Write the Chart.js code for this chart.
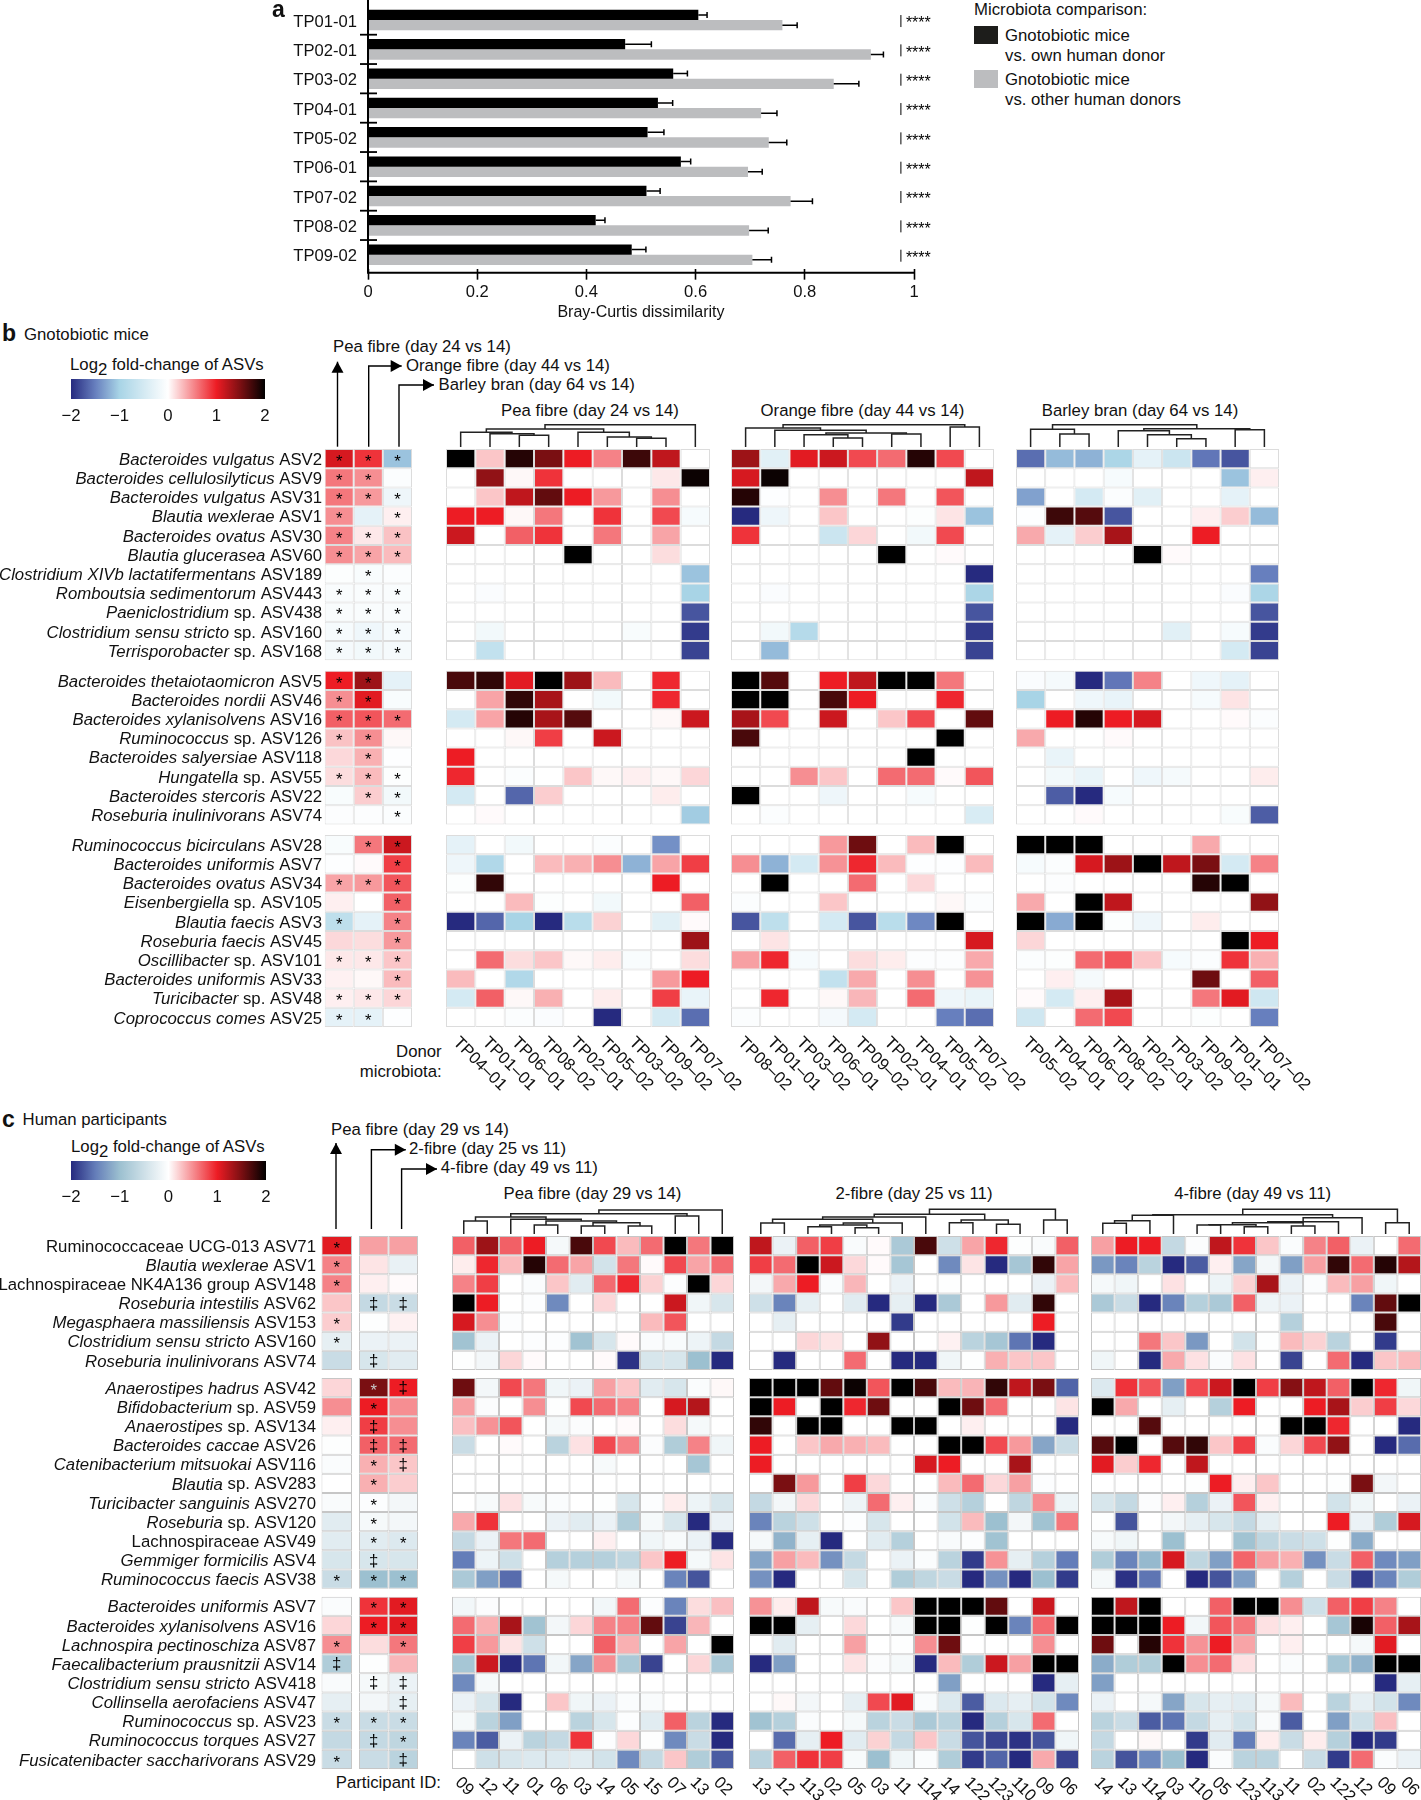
<!DOCTYPE html>
<html><head><meta charset="utf-8"><title>Fibre ASV responses</title>
<script src="https://cdn.jsdelivr.net/npm/chart.js@4"></script>
<style>
html,body{margin:0;padding:0;background:#fff}
#page{position:relative;width:1421px;height:1800px;overflow:hidden;font-family:"Liberation Sans",Arial,sans-serif;color:#111}
canvas{position:absolute}
.t{position:absolute;white-space:nowrap;line-height:1;transform:translateY(-50%)}
svg{position:absolute;left:0;top:0}
</style></head><body><div id="page"></div>
<script>
/* ---------- panel a ---------- */
const subjects=['TP01-01','TP02-01','TP03-02','TP04-01','TP05-02','TP06-01','TP07-02','TP08-02','TP09-02'];
const ownDonor=[0.605,0.471,0.559,0.531,0.512,0.573,0.510,0.417,0.483];
const otherDonor=[0.759,0.921,0.853,0.720,0.734,0.696,0.774,0.698,0.704];
const ownErrTop=[0.621,0.519,0.585,0.558,0.542,0.591,0.535,0.434,0.509];
const otherErrTop=[0.786,0.944,0.899,0.749,0.767,0.722,0.814,0.733,0.739];

/* ---------- panel b ---------- */
const bGroups=[11,8,10];
const bRowNames=['Bacteroides vulgatus| ASV2','Bacteroides cellulosilyticus| ASV9','Bacteroides vulgatus| ASV31','Blautia wexlerae| ASV1','Bacteroides ovatus| ASV30','Blautia glucerasea| ASV60','Clostridium XIVb lactatifermentans| ASV189','Romboutsia sedimentorum| ASV443','Paeniclostridium| sp. ASV438','Clostridium sensu stricto| sp. ASV160','Terrisporobacter| sp. ASV168',
'Bacteroides thetaiotaomicron| ASV5','Bacteroides nordii| ASV46','Bacteroides xylanisolvens| ASV16','Ruminococcus| sp. ASV126','Bacteroides salyersiae| ASV118','Hungatella| sp. ASV55','Bacteroides stercoris| ASV22','Roseburia inulinivorans| ASV74',
'Ruminococcus bicirculans| ASV28','Bacteroides uniformis| ASV7','Bacteroides ovatus| ASV34','Eisenbergiella| sp. ASV105','Blautia faecis| ASV3','Roseburia faecis| ASV45','Oscillibacter| sp. ASV101','Bacteroides uniformis| ASV33','Turicibacter| sp. ASV48','Coprococcus comes| ASV25'];
const bSummaryCols=['Pea fibre','Orange fibre','Barley bran'];
const bSummary=[[1.1,.9,-1.1],[.6,.5,-.05],[.6,.45,-.2],[.5,-.3,.07],[.55,.1,.27],[.5,.4,.3],[-.03,-.08,-.05],[-.07,-.07,-.07],[-.07,-.07,-.07],[-.1,-.18,-.1],[-.12,-.15,-.12],
[1,1.35,-.3],[.5,1.05,-.08],[.7,.75,.65],[.27,.5,.03],[.17,.35,-.02],[.15,.3,-.03],[-.08,.22,-.15],[-.04,-.04,-.05],
[-.08,.6,1.15],[-.02,.02,.85],[.4,.45,.75],[.07,0,.7],[-.75,-.3,.55],[.17,.15,.45],[.1,.1,.25],[.06,.03,.3],[.07,.1,.18],[-.3,-.3,-.02]];
const bMarks=['***','**-','***','*-*','***','***','-*-','***','***','***','***','**-','**-','***','**-','-*-','***','-**','--*','-**','--*','***','--*','*-*','--*','***','--*','***','**-'];

const bPeaDonors=['TP04–01','TP01–01','TP06–01','TP08–02','TP02–01','TP05–02','TP03–02','TP09–02','TP07–02'];
const bPea=[[2,.25,1.85,1.5,1,.55,1.75,1.2,0],[0,1.4,.03,.9,0,0,0,.1,1.95],[0,.25,1.2,1.6,1,.45,0,.5,0],[1,1,.03,.6,0,.9,0,.8,-.1],[1.15,0,.7,.9,0,.6,0,.4,0],[0,0,0,0,2,0,0,.15,0],[0,0,0,0,0,0,0,0,-1.1],[0,-.06,0,0,0,0,0,0,-1],[0,0,0,0,0,0,0,0,-1.75],[0,-.15,0,0,0,0,-.08,0,-1.9],[0,-.7,0,0,0,0,0,0,-1.85],
[1.7,1.8,1.05,2,1.35,.3,0,.95,0],[0,.4,1.8,1.3,0,-.15,0,.95,0],[-.5,.4,1.85,1.3,1.65,0,0,.03,1.15],[0,0,.03,.85,0,1.15,0,0,0],[1,0,0,0,0,0,0,0,0],[.95,0,-.05,0,.25,.03,.07,.03,.18],[-.5,0,-1.65,.22,0,0,0,.08,0],[0,.02,0,0,0,0,0,0,-1.05],
[-.3,0,-.15,0,0,-.05,0,-1.4,0],[-.2,-.9,0,.3,.35,.5,-1.2,.4,.85],[-.03,1.8,0,0,0,0,0,1,0],[0,0,.3,-.03,0,-.15,0,0,.7],[-2,-1.65,-1,-2,-.8,.2,0,-.35,.02],[0,0,0,0,0,0,0,0,1.35],[0,.65,.15,.25,.03,.08,-.08,0,.15],[.3,0,-.9,0,0,0,0,.45,1],[-.5,.7,.03,.35,0,.08,0,.85,-.25],[0,0,-.05,-.06,0,-2,0,-.5,-1.6]];
const bPeaTree=[24.3,[20,[16.7,0,[15.3,1,[13.7,2,3]]],[16.7,4,[12,5,[10.7,6,7]]]],8];

const bOrangeDonors=['TP08–02','TP01–01','TP03–02','TP06–01','TP09–02','TP02–01','TP04–01','TP05–02','TP07–02'];
const bOrange=[[1.35,-.35,1.05,1.15,.8,.65,1.85,.8,0],[1.1,1.95,0,0,0,0,0,0,1.2],[1.85,-.02,0,.5,0,.6,0,.75,0],[-2,-.2,0,.25,0,0,-.03,.12,-1.1],[.9,0,0,-.6,.18,0,-.15,.8,0],[0,0,0,0,0,2,0,.02,0],[0,0,0,0,0,0,0,0,-2],[0,-.06,0,0,0,0,0,0,-.95],[0,0,0,0,0,0,0,0,-1.75],[0,-.15,-.85,0,0,0,0,0,-1.9],[0,-1.15,0,0,0,0,0,0,-1.85],
[2,1.65,0,1,1.2,2,2,.6,0],[2,2,0,1.7,1,0,0,.95,0],[1.3,.8,0,1.15,0,.25,.8,0,1.6],[1.7,0,0,0,0,0,0,2,0],[0,0,0,0,0,0,2,0,0],[0,0,.5,.25,0,.65,.65,.02,.75],[2,0,0,-.2,0,0,-.1,0,0],[0,-.05,0,0,0,0,0,0,-.45],
[0,0,0,.45,1.55,0,.3,2,0],[.5,-1.2,-.5,.48,.95,.3,-.02,-.02,.3],[0,2,0,0,.65,0,.17,0,0],[-.05,0,0,.25,0,0,0,.03,-.05],[-1.75,-.75,0,-.5,-1.75,-.8,-1.45,2,0],[0,.12,0,0,0,0,0,0,1.1],[.42,.95,-.1,0,.15,.08,-.04,-.04,.38],[0,0,0,-.7,.38,0,.5,0,.48],[0,.95,0,.03,.32,0,.65,-.2,-.25],[-.05,0,0,-.13,-.5,0,0,-1.5,-1.6]];
const bOrangeTree=[24.3,[21,0,[18.7,1,[16,[14.3,2,[11,3,4]],[15,5,6]]]],[22,7,8]];

const bBarleyDonors=['TP05–02','TP04–01','TP06–01','TP08–02','TP02–01','TP03–02','TP09–02','TP01–01','TP07–02'];
const bBarley=[[-1.6,-1.15,-1.2,-.95,-.3,-.6,-1.55,-1.75,0],[0,0,0,-.1,0,0,0,-1.1,.07],[-1.3,0,-.5,-.05,-.35,0,0,-.3,0],[-.02,1.75,1.65,-1.75,0,0,.07,.22,-1.15],[.38,-.3,.22,1.3,0,0,1,0,0],[0,0,0,0,2,.02,0,0,0],[0,0,0,0,0,0,0,0,-1.5],[0,0,0,0,0,0,0,-.06,-.95],[0,0,0,0,0,0,0,0,-1.75],[0,0,0,0,0,-.35,0,-.1,-1.9],[0,0,0,0,0,0,0,-.5,-1.85],
[-.06,-.12,-2,-1.55,.55,0,-.18,-.3,0],[-1,0,-.18,-.25,0,0,-.1,.12,0],[0,1,1.85,1,1.1,0,0,.02,-.05],[.38,0,0,.02,0,0,0,0,0],[0,-.25,0,0,0,0,0,0,0],[0,-.15,-.25,0,-.18,-.12,0,0,.08],[0,-1.7,-2,-.1,0,0,0,0,0],[0,0,.02,0,0,0,0,-.08,-1.7],
[2,2,2,0,0,0,.38,0,0],[-.1,-.05,1.1,1.35,2,1.2,1.5,-.5,.55],[0,-.04,0,0,0,0,1.85,2,0],[.38,0,2,1.2,0,0,0,0,1.4],[2,-1.25,2,-.03,-.2,0,.08,0,0],[.18,0,0,0,0,0,0,2,1],[-.05,-.03,.65,.75,.25,-.1,-.05,.9,.35],[0,.07,-.12,0,0,0,1.55,0,.7],[.02,-.5,.07,1.3,0,0,.6,1.05,-.55],[-.55,0,.65,.8,0,0,-.03,0,-1.5]];
const bBarleyTree=[24.3,[19.7,0,[15,1,2]],[20.3,[18.3,3,[14.3,4,[10.3,5,6]]],[19.3,7,8]]];

/* ---------- panel c ---------- */
const cGroups=[7,11,9];
const cRowNames=['|Ruminococcaceae UCG-013 ASV71','Blautia wexlerae| ASV1','|Lachnospiraceae NK4A136 group ASV148','Roseburia intestilis| ASV62','Megasphaera massiliensis| ASV153','Clostridium sensu stricto| ASV160','Roseburia inulinivorans| ASV74',
'Anaerostipes hadrus| ASV42','Bifidobacterium| sp. ASV59','Anaerostipes| sp. ASV134','Bacteroides caccae| ASV26','Catenibacterium mitsuokai| ASV116','Blautia| sp. ASV283','Turicibacter sanguinis| ASV270','Roseburia| sp. ASV120','|Lachnospiraceae ASV49','Gemmiger formicilis| ASV4','Ruminococcus faecis| ASV38',
'Bacteroides uniformis| ASV7','Bacteroides xylanisolvens| ASV16','Lachnospira pectinoschiza| ASV87','Faecalibacterium prausnitzii| ASV14','Clostridium sensu stricto| ASV418','Collinsella aerofaciens| ASV47','Ruminococcus| sp. ASV23','Ruminococcus torques| ASV27','Fusicatenibacter saccharivorans| ASV29'];
const cSummaryPea=[[1.05],[.55],[.55],[.25],[.22],[-.25],[-.55],[.18],[.5],[.07],[-.02],[-.05],[0],[-.06],[-.3],[-.3],[-.4],[-.55],[-.05],[.18],[.5],[-.8],[-.06],[-.25],[-.55],[-.6],[-.55]];
const cMarksPea=['*','*','*','-','*','*','-','-','-','-','-','-','-','-','-','-','-','*','-','-','*','‡','-','-','*','-','*'];
const cSummaryMix=[[.42,.42],[.12,-.22],[.07,.02],[-.6,-.55],[-.02,.06],[-.2,-.2],[-.4,-.3],[1.5,1],[1,.5],[.85,.5],[.7,.65],[.35,.25],[.35,.22],[-.03,-.12],[-.1,-.12],[-.3,-.35],[-.4,-.4],[-1,-1],[.9,1.05],[1,1.05],[.15,.6],[-.02,.32],[-.1,-.2],[-.12,-.25],[-.55,-.55],[-.6,-.65],[-.55,-.7]];
const cMarksMix=['--','--','--','‡‡','--','--','‡-','*‡','*-','‡-','‡‡','*‡','*-','*-','*-','**','‡-','**','**','**','-*','--','‡‡','-‡','**','‡*','-‡'];

const cPeaIds=['09','12','11','01','06','03','14','05','15','07','13','02'];
const cPea=[[.7,1.35,.7,1,-.1,1.7,.8,.3,.65,2,.6,2],[.08,.95,.3,1.85,.65,.4,-.45,.6,.02,.8,.4,.65],[.55,.85,0,-.05,.25,-.3,.65,.95,.2,-.03,2,.18],[2,1,0,-.03,-1.4,0,.18,0,0,1.15,-.15,-.4],[1.1,.5,-.03,0,0,0,0,0,.3,.75,0,0],[-.95,-.2,0,-.03,-.03,-.95,-.4,.02,-.05,-.07,-.18,-.6],[-.02,-.12,.18,.02,0,0,.02,-1.95,-.4,-.4,-1,-2],
[1.55,-.12,.8,.6,-.15,-.2,.42,.25,-.3,-.4,-.05,.03],[.42,-.04,0,.5,-.02,.8,.65,.55,0,1.1,1.25,0],[.28,.48,.75,0,-.1,-.04,0,.02,0,.15,-.1,0],[-.55,0,.02,0,-.7,.13,.8,.55,-.04,-.8,.55,-.15],[0,0,0,0,0,0,-.08,0,0,0,-.9,0],[0,0,0,0,0,0,0,0,0,0,0,0],[0,-.08,.13,-.08,-.05,0,-.02,-.4,-.03,.08,-.18,-.4],[.38,.9,0,0,-.2,-.3,-.2,-.8,-.1,-.4,-2,-.2],[-.6,-.2,.6,.65,0,0,.07,0,-.15,-.08,-.2,-2],[-1.5,-.18,-.5,0,-.75,-.75,-.75,-.65,.25,1,-.1,.12],[-.85,-1.25,-1.6,0,-.1,0,0,-.1,0,-1.45,-1.75,0],
[-.13,-.04,0,0,0,0,-.13,.65,-.03,-1.45,.15,.28],[.65,.35,1.3,-.95,-.12,.18,.55,.55,1.6,-1.85,.32,0],[.85,.45,.12,-.5,0,0,.7,.35,0,.4,0,2],[-.9,1.15,-2,-1.55,-.13,-1.2,.5,-.85,-1.85,0,.18,-.85],[-1.4,-.1,0,0,0,0,0,0,0,0,0,0],[-.2,-.4,-2,0,.25,-.15,-.2,-.05,-.06,0,0,0],[-.1,-.7,-1.25,0,0,-.7,-.4,-.03,-.3,.7,-.7,-2],[-1.45,-1.7,-.2,-.7,-.6,.9,-.03,.17,-.02,-1.4,-.55,-2],[0,-.5,-.4,-.35,-.35,-.3,-.45,-1.4,-.6,.25,-.8,-1.7]];
const cPeaTree=[26,[22.3,[19,[15,0,1],[16.7,2,[15,[11,3,4],[13.3,[10,5,6],[10,7,8]]]]],[20,9,10]],11];

const cTwoIds=['13','12','113','02','05','03','11','114','14','122','123','110','09','06'];
const cTwo=[[1.2,-.2,.7,.85,-.06,.02,-.85,1.7,-.5,.4,.95,-.02,-.06,.7],[.85,.65,2,1.15,.17,.02,-.9,0,-1.4,.12,-2,-.9,1.8,.4],[-.12,.38,1,-.05,.32,0,-.2,0,-.02,0,0,0,-.2,.3],[-.5,-1.45,-.25,0,-.3,-2,-.25,-2,-.85,0,.45,-.3,1.8,0],[0,-.25,0,0,0,0,-1.9,0,0,0,0,0,1,0],[0,0,.18,.12,0,1.4,0,0,.06,-.7,-.9,-1.55,-2,0],[0,-2,0,0,.65,0,-2,-2,-.15,-.02,.35,.25,.25,0],
[2,2,2,1.6,1.95,.75,2,1.7,.3,.33,1.8,1.2,1.5,-1.65],[2,1,0,2,.95,1.55,0,0,2,1.55,.65,0,0,.12],[1.8,0,2,2,0,0,2,2,0,.07,0,0,0,-2],[1,0,.25,.38,.35,.3,0,0,2,2,.8,.45,-1.2,-.55],[1,0,0,0,0,0,0,1.1,1,0,0,1.3,0,0],[0,1.5,.45,0,.85,.17,0,0,.3,.65,.17,.42,-.03,0],[-.6,-.12,.17,0,-.17,.65,.07,-.05,-.5,-.75,0,-.65,.5,-.18],[-1.45,-.7,-.5,0,-.03,-.4,0,0,-.45,.3,-1,-.12,-.95,.6],[-.1,-1.1,-.25,-2,0,-.3,-.75,0,-.07,-.03,-.95,0,0,0],[-1.2,.42,.3,-1.35,-.6,0,-.2,-.05,-.7,-1.9,.48,-.25,-.75,-1.5],[-1.35,-2,0,0,-.4,0,-.8,-.65,-.55,-2,-1.35,-2,-1,-1.9],
[.48,.08,1.2,-.08,-.06,0,.25,2,2,2,1.6,0,1.15,0],[2,2,-.25,0,.17,0,-.08,2,2,-.02,2,-1.45,.65,2],[0,-.3,0,0,.42,0,-.02,.5,1.55,0,0,0,.5,0],[-2,-1.25,0,0,.12,-.04,-.1,-2,.3,-.8,1.15,.42,2,2],[0,0,0,0,0,0,0,0,-1.25,0,0,0,-2,-.25],[0,.03,-.12,0,-.25,.8,1.05,-.05,-.35,-1.7,-.35,-.25,-.45,-1.4],[-.95,-.75,-.05,0,-.1,-.7,-.55,-.85,-.7,-2,-.75,-.4,.65,0],[0,-1.6,-.25,1,-.3,.2,-.6,.25,-.55,-1.75,-1.85,-1.95,-1.75,-.15],[-.7,.7,.9,.85,-.08,-1,-.15,-.05,-.8,-1.9,-1.65,-2,.38,-1.85]];
const cTwoTree=[26.7,[21.7,[19,[16.7,[13,0,1],[13,[11,[9.3,2,3],[8.3,4,5]],6]],7],[16,[13.3,8,9],[11.7,10,11]]],[16,12,13]];

const cFourIds=['14','13','114','03','110','05','123','113','11','02','122','12','09','06'];
const cFour=[[.42,1,1,-.6,-.04,1.2,.9,.25,-.05,.55,.7,-.2,0,.65],[-1.3,-1.45,-.7,-2,-1.7,.07,-1.2,-.12,-1.25,.42,1.8,.65,1.85,1.25],[-.1,-.15,0,.13,0,-.18,.2,1.3,-.2,-.05,.3,.42,-.15,0],[-.85,-.55,-2,-1.45,-.75,-.85,.7,-.17,-.2,0,0,-1.45,1.6,2],[0,0,0,0,0,0,0,0,-.75,0,0,0,1.7,0],[0,0,.6,.25,-1.3,0,-.45,-.02,.3,.2,-.7,0,-1.9,0],[-.15,0,-2,.38,.13,-.05,.13,0,-1.85,0,.65,-2,.25,.3],
[-.35,.9,.75,-1.25,.8,1.15,2,.85,1.45,1.2,.7,2,.95,-.15],[2,.38,0,-.25,0,-.75,1,0,0,1,1.3,.22,.85,.17],[0,0,1.65,0,0,0,0,0,2,2,.95,0,0,-2],[1.65,2,0,1.65,1.8,.25,.85,-.05,.18,.8,1.4,0,-2,-1.6],[1.05,.22,.95,0,1.2,0,0,0,0,0,0,0,0,0],[0,0,0,0,-.02,1,.07,.25,0,0,-.02,1.5,-.12,0],[-.4,-.6,-.04,.07,-.75,-.2,.75,.07,0,0,-.45,-.15,0,-.2],[-.02,-1.75,0,-.12,-.25,-.4,-.6,-.25,0,0,1,-.2,-.8,1.1],[-.08,-.15,0,-1,0,0,-.95,-.65,-.55,-.5,-.02,-1.15,0,0],[-.8,-1.45,-1.05,1.1,-.65,-1.25,.68,.42,.35,-1.35,-.55,.7,-1.4,-1.25],[-.1,-1.95,-1.55,0,-2,-1.75,-1.25,0,-.75,0,-.55,-1.9,-1.45,-.8],
[2,1.2,2,0,0,.7,2,2,.5,-.5,.7,.85,.55,0],[2,2,2,1,-.13,.75,.6,.13,.07,0,-.9,1.9,.7,1.3],[1.55,0,1.85,.9,.48,1,.4,0,.07,0,0,-.1,1.05,0],[-1.15,-.8,-.8,2,.5,.65,.13,0,-.05,0,-.9,-1.1,2,2],[-1.25,0,0,0,0,0,0,0,0,0,0,0,-2,-.25],[-.2,0,-.1,-1.2,-.4,-.25,-.3,-.1,.3,0,-.7,-.25,-.45,-1.4],[-.7,-.55,-1.7,-1.55,-.6,-.25,-.45,-.06,-1.7,0,-1.25,-.5,.28,0],[-.6,0,.03,0,-1.9,-.3,-1.5,.08,-.55,.08,-.75,-2,-1.9,0],[-.7,-1.75,-1.4,-1,-2,-.05,-.7,-.7,0,-.55,-1.9,.65,-.05,-.2]];
const cFourTree=[26.7,[21.3,[20.7,[15.3,[12.7,0,1],2],3],[18.3,[14.3,[13.3,[11.3,[11,4,5],[9.3,6,7]],[10,8,9]],10],11]],[13.3,12,13]];

const colorTicks=[-2,-1,0,1,2];

/* ---------- helpers ---------- */
const FONT='"Liberation Sans", Arial, sans-serif';
const FS=16.75;
const page=document.getElementById('page');
Chart.defaults.font.family=FONT;
Chart.defaults.color='#111';
const rampB=[[-2,[38,42,127]],[-1.5,[103,127,190]],[-1,[168,212,230]],[0,[255,255,255]],[1,[237,28,36]],[1.5,[122,15,18]],[2,[0,0,0]]];
const rampC=[[-2,[38,42,127]],[-1.5,[100,125,185]],[-1,[156,192,208]],[0,[255,255,255]],[1,[237,28,36]],[1.5,[122,15,18]],[2,[0,0,0]]];
function colorFor(v,ramp){
  for(let i=1;i<ramp.length;i++){
    if(v<=ramp[i][0]){
      const [a,ca]=ramp[i-1],[b,cb]=ramp[i],f=(v-a)/(b-a);
      return 'rgb('+ca.map((c,k)=>Math.round(c+(cb[k]-c)*f)).join(',')+')';
    }
  }
  return 'rgb(0,0,0)';
}
function addCanvas(l,t,w,h){
  const c=document.createElement('canvas');
  c.width=Math.round(w);c.height=Math.round(h);
  c.style.left=l+'px';c.style.top=t+'px';
  c.style.width=Math.round(w)+'px';c.style.height=Math.round(h)+'px';
  page.appendChild(c);return c;
}
function txt(x,y,html,opt){
  opt=opt||{};
  const d=document.createElement('div');d.className='t';d.innerHTML=html;
  d.style.top=y+'px';d.style.fontSize=(opt.size||FS)+'px';
  if(opt.bold)d.style.fontWeight='bold';
  if(opt.right!==undefined){d.style.right=(1421-opt.right)+'px';}
  else if(opt.center){d.style.left=x+'px';d.style.transform='translate(-50%,-50%)';}
  else d.style.left=x+'px';
  page.appendChild(d);
}
function rowStarts(groups,gapUnits){
  const out=[];let y=0;
  groups.forEach(n=>{for(let i=0;i<n;i++)out.push(y++);y+=gapUnits;});
  return out;
}
function drawTree(ctx,node,xs,base){
  if(typeof node==='number')return {x:xs.getPixelForValue(node),y:base-2};
  const a=drawTree(ctx,node[1],xs,base),b=drawTree(ctx,node[2],xs,base),y=base-node[0];
  ctx.beginPath();ctx.moveTo(a.x,a.y);ctx.lineTo(a.x,y);ctx.lineTo(b.x,y);ctx.lineTo(b.x,b.y);ctx.stroke();
  return {x:(a.x+b.x)/2,y};
}
/* one heat-map column block: bars float from row start to row start + 1 on a linear y axis */
function heat(o){
  const padL=o.names?o.left:14,padR=o.tickLabels?90:6,padT=o.tree?40:4,padB=o.tickLabels?80:4;
  const l=o.left-padL,t=o.top-padT,w=padL+(o.right-o.left)+padR,h=padT+(o.bottom-o.top)+padB;
  const starts=rowStarts(o.groups,o.gap);
  const total=o.groups.reduce((a,b)=>a+b,0)+o.gap*(o.groups.length-1);
  const cvs=addCanvas(l,t,w,h);
  const overlay={id:'overlay',afterDatasetsDraw(chart){
    const ctx=chart.ctx,xs=chart.scales.x,ys=chart.scales.y;
    ctx.save();
    if(o.marks){
      ctx.textAlign='center';ctx.textBaseline='middle';ctx.font=FS+'px '+FONT;
      o.marks.forEach((m,r)=>[...m].forEach((ch,c)=>{
        if(ch==='-')return;
        ctx.fillStyle=o.matrix[r][c]>1.4?'#c9c9c9':'#000';
        ctx.fillText(ch,xs.getPixelForValue(c),ys.getPixelForValue(starts[r]+.5)+(ch==='*'?3.5:1));
      }));
    }
    ctx.fillStyle='#111';
    if(o.names){
      o.names.forEach((n,r)=>{
        const [it,ro]=n.split('|');const yy=ys.getPixelForValue(starts[r]+.5)+1.5;
        let x=chart.chartArea.left-o.labelGap;
        ctx.textBaseline='middle';ctx.textAlign='left';
        ctx.font=FS+'px '+FONT;const wr=ctx.measureText(ro).width;
        ctx.font='italic '+FS+'px '+FONT;const wi=ctx.measureText(it).width;
        ctx.fillText(it,x-wr-wi,yy);
        ctx.font=FS+'px '+FONT;ctx.fillText(ro,x-wr,yy);
      });
    }
    if(o.tree){
      ctx.strokeStyle='#222';ctx.lineWidth=1.5;
      drawTree(ctx,o.tree,xs,chart.chartArea.top);
    }
    if(o.tickLabels){
      ctx.font=FS+'px '+FONT;ctx.textAlign='left';ctx.textBaseline='middle';
      o.tickLabels.forEach((s,i)=>{
        ctx.save();
        ctx.translate(xs.getPixelForValue(i)+o.tickDx,chart.chartArea.bottom+o.tickDy);
        ctx.rotate(Math.PI/4);ctx.fillText(s,0,0);ctx.restore();
      });
    }
    ctx.restore();
  }};
  new Chart(cvs,{type:'bar',
    data:{labels:o.columns,datasets:o.matrix.map((row,r)=>({
      label:o.rowKeys[r],
      data:row.map(()=>[starts[r],starts[r]+1]),
      backgroundColor:row.map(v=>colorFor(v,o.ramp)),
      borderColor:o.grid,borderWidth:1,borderSkipped:false,inflateAmount:0,
      barPercentage:1,categoryPercentage:1}))},
    options:{responsive:false,animation:false,events:[],devicePixelRatio:1,
      layout:{padding:{left:padL,right:padR,top:padT,bottom:padB}},
      plugins:{legend:{display:false},tooltip:{enabled:false}},
      scales:{x:{type:'category',display:false,stacked:true,offset:true},
              y:{type:'linear',display:false,reverse:true,min:0,max:total}}},
    plugins:[overlay]});
}
function colorBar(l,r,t,b,ramp){
  const cl=l-30,cr=r+35;
  const cvs=addCanvas(cl,t,cr-cl,b-t+32);
  new Chart(cvs,{type:'bar',
    data:{labels:['Log2 fold-change'],datasets:[{data:[[colorTicks[0],colorTicks[4]]],barPercentage:1,categoryPercentage:1,
      backgroundColor(ctx){
        const ca=ctx.chart.chartArea;if(!ca)return '#fff';
        const g=ctx.chart.ctx.createLinearGradient(ca.left,0,ca.right,0);
        ramp.forEach(s=>g.addColorStop((s[0]+2)/4,colorFor(s[0],ramp)));
        return g;}}]},
    options:{indexAxis:'y',responsive:false,animation:false,events:[],devicePixelRatio:1,
      layout:{padding:{left:l-cl,right:cr-r,top:0,bottom:0}},
      plugins:{legend:{display:false},tooltip:{enabled:false}},
      scales:{y:{display:false},
        x:{type:'linear',min:-2,max:2,grid:{display:false,drawTicks:false},border:{display:false},
           afterFit(s){s.height=32;},
           ticks:{stepSize:1,padding:7,maxRotation:0,autoSkip:false,font:{size:FS},color:'#111',
             callback:v=>String(v).replace('-','−')}}}}});
}

/* ---------- draw panel a ---------- */
(function(){
  const L=250,W=700,H=322,plotL=368,plotR=914,plotT=5.37,plotB=269.37,base=272.7;
  const cvs=addCanvas(L,0,W,H);
  const marks={id:'marks',afterDatasetsDraw(chart){
    const ctx=chart.ctx,xs=chart.scales.x,ys=chart.scales.y;
    ctx.save();ctx.strokeStyle='#000';ctx.lineWidth=1.5;
    [[ownErrTop,0],[otherErrTop,1]].forEach(([tops,ds])=>{
      chart.getDatasetMeta(ds).data.forEach((bar,i)=>{
        const x2=xs.getPixelForValue(tops[i]);
        ctx.beginPath();ctx.moveTo(bar.x,bar.y);ctx.lineTo(x2,bar.y);
        ctx.moveTo(x2,bar.y-3);ctx.lineTo(x2,bar.y+3);ctx.stroke();
      });
    });
    const left=xs.getPixelForValue(0),right=xs.getPixelForValue(1);
    ctx.lineWidth=2;ctx.beginPath();
    ctx.moveTo(left,0);ctx.lineTo(left,base+1);
    ctx.moveTo(left,base);ctx.lineTo(right+1,base);ctx.stroke();
    ctx.lineWidth=1.8;
    const step=(plotB-plotT)/subjects.length;
    for(let i=1;i<subjects.length;i++){
      const y=ys.getPixelForValue(i)-step/2;
      ctx.beginPath();ctx.moveTo(left-8,y);ctx.lineTo(left+9,y);ctx.stroke();
    }
    ctx.lineWidth=1;ctx.fillStyle='#000';ctx.font='16px '+FONT;ctx.textAlign='left';ctx.textBaseline='middle';
    subjects.forEach((s,i)=>{
      const y=ys.getPixelForValue(i)+1,sx=xs.getPixelForValue(0.976);
      ctx.beginPath();ctx.moveTo(sx,y-6);ctx.lineTo(sx,y+6);ctx.stroke();
      ctx.fillText('****',sx+5,y+3);
    });
    ctx.restore();
  }};
  new Chart(cvs,{type:'bar',
    data:{labels:subjects,datasets:[
      {label:'Gnotobiotic mice vs. own human donor',data:ownDonor,backgroundColor:'#000',barPercentage:1,categoryPercentage:.7},
      {label:'Gnotobiotic mice vs. other human donors',data:otherDonor,backgroundColor:'#bcbdbf',barPercentage:1,categoryPercentage:.7}]},
    options:{indexAxis:'y',responsive:false,animation:false,events:[],devicePixelRatio:1,
      layout:{padding:{left:0,right:L+W-plotR,top:plotT,bottom:0}},
      plugins:{legend:{display:false},tooltip:{enabled:false}},
      scales:{
        y:{type:'category',grid:{display:false,drawTicks:false},border:{display:false},
           afterFit(s){s.width=plotL-L;s.paddingTop=0;s.paddingBottom=0;},
           ticks:{padding:11,labelOffset:2,font:{size:16.6},color:'#111'}},
        x:{type:'linear',min:0,max:1,afterFit(s){s.height=H-plotB;s.paddingLeft=0;s.paddingRight=0;},
           grid:{drawOnChartArea:false,drawTicks:true,tickLength:10.3,tickWidth:1.6,tickColor:'#000'},border:{display:false},
           ticks:{stepSize:.2,padding:3,maxRotation:0,font:{size:16.6},color:'#111',callback:v=>String(+(+v).toFixed(1))},
           title:{display:true,text:'Bray-Curtis dissimilarity',font:{size:16},color:'#111',padding:{top:0,bottom:0}}}}},
    plugins:[marks]});
})();

/* legend of panel a */
txt(272,9,'a',{bold:true,size:23});
txt(974,10,'Microbiota comparison:');
txt(1005,35.7,'Gnotobiotic mice');txt(1005,56,'vs. own human donor');
txt(1005,79.7,'Gnotobiotic mice');txt(1005,99.6,'vs. other human donors');
[['#1d1d1b',26],['#bcbdbf',70]].forEach(([c,y])=>{
  const d=document.createElement('div');
  d.style.cssText='position:absolute;left:974px;top:'+y+'px;width:24px;height:17.5px;background:'+c;
  page.appendChild(d);
});

/* ---------- panel b ---------- */
const LOG2='Log<span style="position:relative;top:5px">2</span> fold-change of ASVs';
txt(2,333,'b',{bold:true,size:23});
txt(24,334.7,'Gnotobiotic mice');
txt(70,364.5,LOG2);
colorBar(71,265.4,379,399,rampB);
txt(333,346.7,'Pea fibre (day 24 vs 14)');
txt(406,366,'Orange fibre (day 44 vs 14)');
txt(438.5,385,'Barley bran (day 64 vs 14)');
txt(590,411,'Pea fibre (day 24 vs 14)',{center:true});
txt(862.5,411,'Orange fibre (day 44 vs 14)',{center:true});
txt(1140,411,'Barley bran (day 64 vs 14)',{center:true});
txt(0,1052,'Donor',{right:441.7});
txt(0,1071.7,'microbiota:',{right:441.7});
const bGeom={top:449,bottom:1027,groups:bGroups,gap:.55,ramp:rampB,grid:'#dcdcdc',rowKeys:bRowNames,tickDx:-5,tickDy:13};
heat({...bGeom,left:324.6,right:412.3,columns:bSummaryCols,matrix:bSummary,marks:bMarks,names:bRowNames,labelGap:2.5});
heat({...bGeom,left:446,right:710,columns:bPeaDonors,matrix:bPea,tree:bPeaTree,tickLabels:bPeaDonors});
heat({...bGeom,left:731,right:994,columns:bOrangeDonors,matrix:bOrange,tree:bOrangeTree,tickLabels:bOrangeDonors});
heat({...bGeom,left:1016,right:1279,columns:bBarleyDonors,matrix:bBarley,tree:bBarleyTree,tickLabels:bBarleyDonors});

/* ---------- panel c ---------- */
txt(2,1119,'c',{bold:true,size:23});
txt(22.6,1120,'Human participants');
txt(71,1146.7,LOG2);
colorBar(70.8,265.7,1160.7,1180,rampC);
txt(331,1130,'Pea fibre (day 29 vs 14)');
txt(409,1149.3,'2-fibre (day 25 vs 11)');
txt(440.8,1168.3,'4-fibre (day 49 vs 11)');
txt(592.5,1194,'Pea fibre (day 29 vs 14)',{center:true});
txt(914,1194,'2-fibre (day 25 vs 11)',{center:true});
txt(1252.7,1194,'4-fibre (day 49 vs 11)',{center:true});
txt(0,1783,'Participant ID:',{right:441});
const cGeom={top:1236,bottom:1769.3,groups:cGroups,gap:.42,ramp:rampC,grid:'#c6c6c6',rowKeys:cRowNames,tickDx:-6,tickDy:11};
heat({...cGeom,left:321.4,right:351.6,columns:['Pea fibre'],matrix:cSummaryPea,marks:cMarksPea,names:cRowNames,labelGap:5.4});
heat({...cGeom,left:358.7,right:418,columns:['2-fibre','4-fibre'],matrix:cSummaryMix,marks:cMarksMix});
heat({...cGeom,left:452,right:734,columns:cPeaIds,matrix:cPea,tree:cPeaTree,tickLabels:cPeaIds});
heat({...cGeom,left:748.5,right:1078,columns:cTwoIds,matrix:cTwo,tree:cTwoTree,tickLabels:cTwoIds});
heat({...cGeom,left:1091,right:1421,columns:cFourIds,matrix:cFour,tree:cFourTree,tickLabels:cFourIds});

/* ---------- arrows ---------- */
const svgNS='http://www.w3.org/2000/svg';
const svg=document.createElementNS(svgNS,'svg');
svg.setAttribute('width',1421);svg.setAttribute('height',1800);
function arrow(pts){
  const p=document.createElementNS(svgNS,'polyline');
  p.setAttribute('points',pts.map(a=>a.join(',')).join(' '));
  p.setAttribute('fill','none');p.setAttribute('stroke','#000');p.setAttribute('stroke-width','1.4');
  svg.appendChild(p);
  const [a,b]=pts.slice(-2);
  const dx=Math.sign(b[0]-a[0]),dy=Math.sign(b[1]-a[1]);
  const h=document.createElementNS(svgNS,'polygon');
  const px=-dy,py=dx,L=11,W=6;
  h.setAttribute('points',[[b[0],b[1]],[b[0]-dx*L+px*W,b[1]-dy*L+py*W],[b[0]-dx*L-px*W,b[1]-dy*L-py*W]].map(a=>a.join(',')).join(' '));
  h.setAttribute('fill','#000');svg.appendChild(h);
}
arrow([[337.5,446.7],[337.5,361.7]]);
arrow([[368.7,446.7],[368.7,366],[401.7,366]]);
arrow([[399,446.7],[399,385],[434,385]]);
arrow([[336,1229],[336,1143]]);
arrow([[371.4,1229],[371.4,1149.7],[405.8,1149.7]]);
arrow([[401.6,1229],[401.6,1169],[437,1169]]);
page.appendChild(svg);
</script></body></html>
